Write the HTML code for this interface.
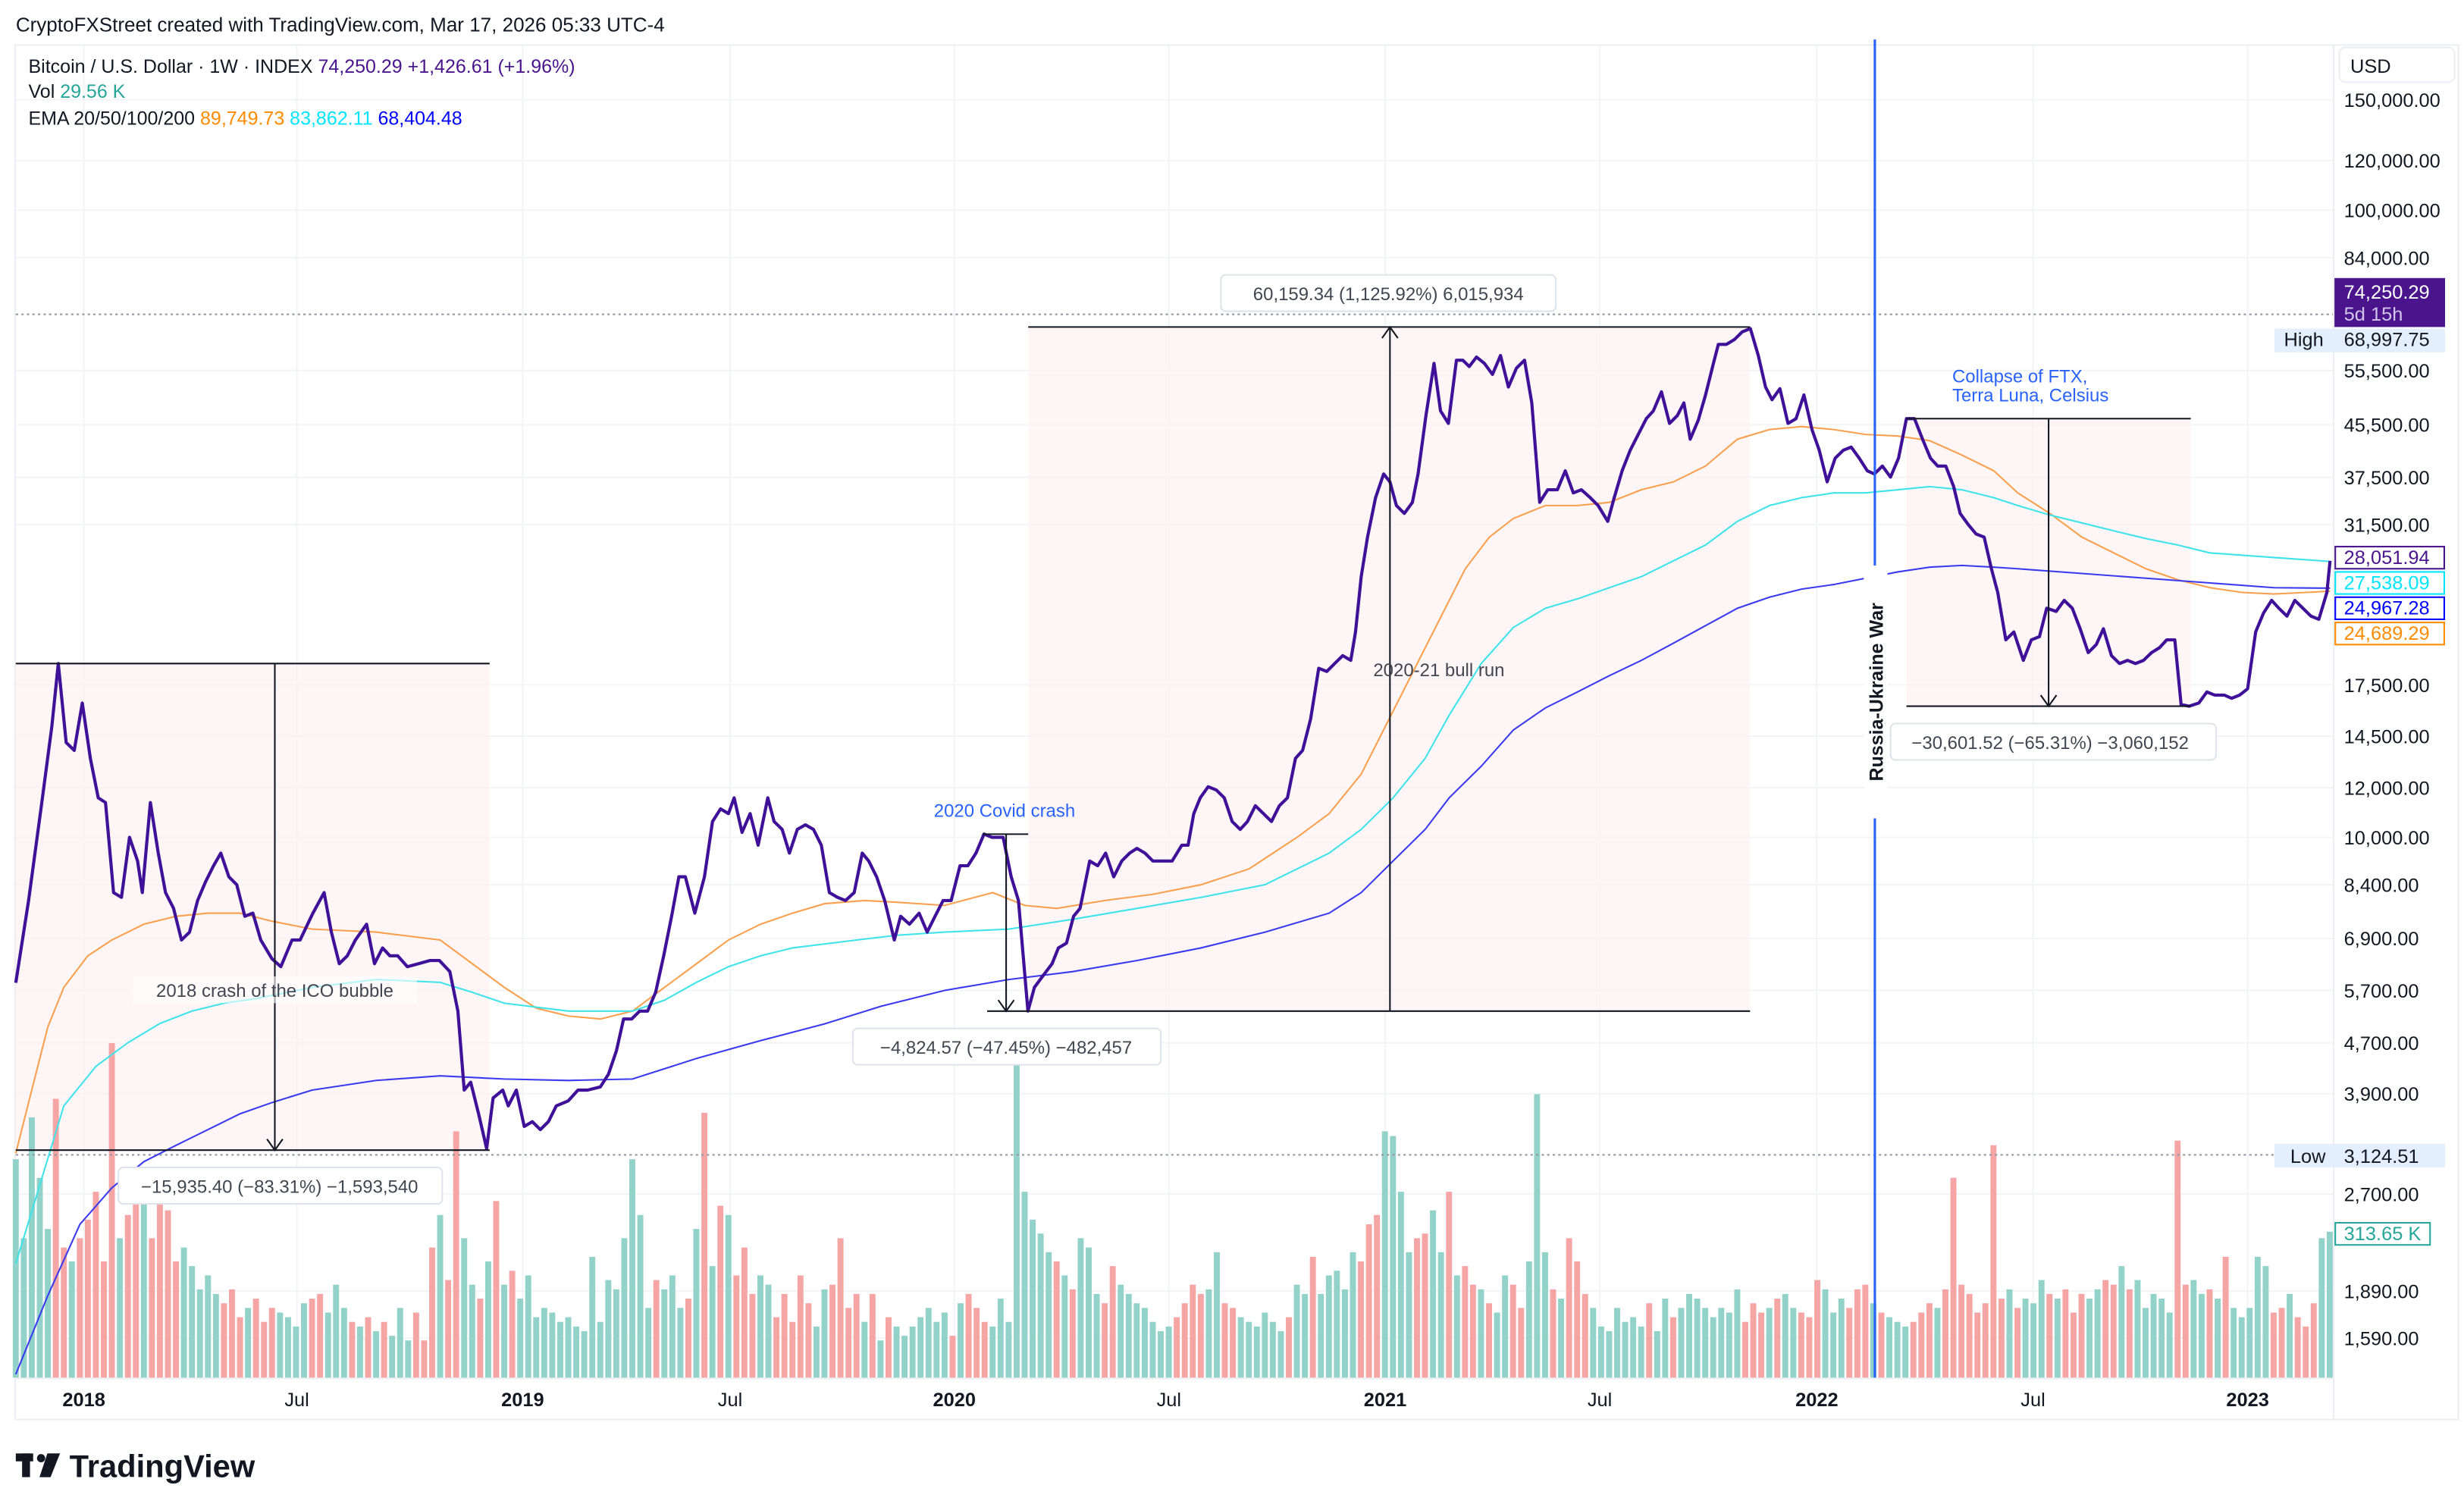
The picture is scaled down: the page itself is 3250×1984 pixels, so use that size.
<!DOCTYPE html>
<html><head><meta charset="utf-8"><style>
html,body{margin:0;padding:0;background:#fff;}
svg{display:block;font-family:"Liberation Sans",sans-serif;}
</style></head><body>
<svg id="chart" width="3250" height="1984" viewBox="0 0 1560 952" preserveAspectRatio="none" xmlns="http://www.w3.org/2000/svg">
<rect x="0" y="0" width="1560" height="952" fill="#fff"/>
<text x="10" y="20" font-size="12.5" fill="#131722">CryptoFXStreet created with TradingView.com, Mar 17, 2026 05:33 UTC-4</text>
<rect x="9.5" y="28.5" width="1547" height="870" fill="none" stroke="#eceef2"/>
<line x1="1477.5" y1="29" x2="1477.5" y2="898" stroke="#eceef2"/>
<line x1="10" y1="872.5" x2="1477" y2="872.5" stroke="#eceef2"/>
<g id="grid"></g>
<g id="boxes">
<rect x="10" y="420" width="300" height="308" fill="#fdf2f2" opacity="0.7"/>
<rect x="651" y="207" width="457" height="433" fill="#fdf2f2" opacity="0.7"/>
<rect x="1207" y="265" width="180" height="182" fill="#fdf2f2" opacity="0.7"/>
</g>
<g id="vol"></g>
<line x1="10" y1="199" x2="1477" y2="199" stroke="#9598a1" stroke-dasharray="1.5 2" stroke-width="1"/>
<line x1="10" y1="731" x2="1477" y2="731" stroke="#9598a1" stroke-dasharray="1.5 2" stroke-width="1"/>
<g id="ema"></g>
<g id="price"></g>
<g id="annot" font-size="11.5" fill="#131722">
<line x1="10" y1="420" x2="310" y2="420" stroke="#131722"/>
<line x1="10" y1="728" x2="310" y2="728" stroke="#131722"/>
<line x1="174" y1="420" x2="174" y2="727" stroke="#131722"/>
<path d="M169,721 L174,728 L179,721" fill="none" stroke="#131722"/>
<rect x="84" y="618" width="180" height="17" fill="#fff" opacity="0.6"/>
<text x="174" y="631" text-anchor="middle" fill="#434651">2018 crash of the ICO bubble</text>
<rect x="75" y="739" width="205" height="23" rx="3" fill="#fff" stroke="#e0e3eb"/>
<text x="177" y="755" text-anchor="middle" fill="#434651">−15,935.40 (−83.31%) −1,593,540</text>
<line x1="622" y1="528" x2="651" y2="528" stroke="#131722"/>
<line x1="637" y1="528" x2="637" y2="639" stroke="#131722"/>
<path d="M632,633 L637,640 L642,633" fill="none" stroke="#131722"/>
<line x1="625" y1="640" x2="1108" y2="640" stroke="#131722"/>
<line x1="651" y1="207" x2="1108" y2="207" stroke="#131722"/>
<line x1="880" y1="208" x2="880" y2="640" stroke="#131722"/>
<path d="M875,214 L880,207 L885,214" fill="none" stroke="#131722"/>
<text x="636" y="517" text-anchor="middle" fill="#2962ff">2020 Covid crash</text>
<rect x="540" y="651" width="195" height="23" rx="3" fill="#fff" stroke="#e0e3eb"/>
<text x="637" y="667" text-anchor="middle" fill="#434651">−4,824.57 (−47.45%) −482,457</text>
<rect x="773" y="174" width="212" height="23" rx="3" fill="#fff" stroke="#e0e3eb"/>
<text x="879" y="190" text-anchor="middle" fill="#434651">60,159.34 (1,125.92%) 6,015,934</text>
<text x="911" y="428" text-anchor="middle" fill="#434651">2020-21 bull run</text>
<line x1="1207" y1="265" x2="1387" y2="265" stroke="#131722"/>
<line x1="1207" y1="447" x2="1387" y2="447" stroke="#131722"/>
<line x1="1297" y1="265" x2="1297" y2="446" stroke="#131722"/>
<path d="M1292,440 L1297,447 L1302,440" fill="none" stroke="#131722"/>
<text x="1236" y="242" fill="#2962ff">Collapse of FTX,</text>
<text x="1236" y="254" fill="#2962ff">Terra Luna, Celsius</text>
<rect x="1197" y="458" width="206" height="23" rx="3" fill="#fff" stroke="#e0e3eb"/>
<text x="1298" y="474" text-anchor="middle" fill="#434651">−30,601.52 (−65.31%) −3,060,152</text>
<line x1="1187" y1="25" x2="1187" y2="872" stroke="#2962ff" stroke-width="1.5"/>
<rect x="1180" y="358" width="15" height="160" fill="#fff"/>
<text transform="translate(1192,438) rotate(-90)" text-anchor="middle" font-weight="bold" font-size="12">Russia-Ukraine War</text>
</g>
<g font-size="12">
<text x="18" y="46" fill="#131722">Bitcoin / U.S. Dollar · 1W · INDEX <tspan fill="#4a148c">74,250.29</tspan> <tspan fill="#4a148c">+1,426.61 (+1.96%)</tspan></text>
<text x="18" y="62" fill="#131722">Vol <tspan fill="#26a69a">29.56 K</tspan></text>
<text x="18" y="79" fill="#131722">EMA 20/50/100/200 <tspan fill="#ff8c00">89,749.73</tspan> <tspan fill="#00e5ff">83,862.11</tspan> <tspan fill="#0000ff">68,404.48</tspan></text>
</g>
<g id="yaxis" font-size="12.2" fill="#131722"></g>
<g id="xaxis" font-size="12.2" fill="#131722"></g>
<g font-size="12.2">
<rect x="1481" y="30" width="73" height="22" rx="4" fill="#fff" stroke="#eceef2"/>
<text x="1488" y="46" fill="#131722">USD</text>
<rect x="1478" y="176" width="70" height="31" fill="#4a148c"/>
<text x="1484" y="189" fill="#fff">74,250.29</text>
<text x="1484" y="203" fill="#d1c4e9">5d 15h</text>
<rect x="1440" y="208" width="108" height="15" fill="#e3effd"/>
<text x="1446" y="219" fill="#131722">High</text>
<text x="1484" y="219" fill="#131722">68,997.75</text>
<rect x="1440" y="724" width="108" height="15" fill="#e3effd"/>
<text x="1450" y="736" fill="#131722">Low</text>
<text x="1484" y="736" fill="#131722">3,124.51</text>
<rect x="1478.5" y="346" width="69" height="14" fill="#fff" stroke="#4a148c"/>
<text x="1484" y="357" fill="#4a148c">28,051.94</text>
<rect x="1478.5" y="362" width="69" height="14" fill="#fff" stroke="#00e5ff"/>
<text x="1484" y="373" fill="#00e5ff">27,538.09</text>
<rect x="1478.5" y="378" width="69" height="14" fill="#fff" stroke="#0000ff"/>
<text x="1484" y="389" fill="#0000ff">24,967.28</text>
<rect x="1478.5" y="394" width="69" height="14" fill="#fff" stroke="#ff8c00"/>
<text x="1484" y="405" fill="#ff8c00">24,689.29</text>
<rect x="1478.5" y="774" width="60" height="14" fill="#fff" stroke="#26a69a"/>
<text x="1484" y="785" fill="#26a69a">313.65 K</text>
</g>
<g>
<rect x="10" y="920" width="11" height="5" fill="#131722"/>
<rect x="14" y="920" width="5" height="15" fill="#131722"/>
<circle cx="26" cy="923" r="2.6" fill="#131722"/>
<path d="M30,920 L38,920 L32,935 L25,935 Z" fill="#131722"/>
<text x="44" y="935" font-size="20" font-weight="bold" fill="#131722">TradingView</text>
</g>
</svg>
<script>
const priceWeeks=[0,1.6,3.2,4.5,5.3,6.3,7.3,8.3,9.3,10.3,11.2,12.2,13.2,14.2,15.2,15.8,16.8,17.8,18.7,19.7,20.7,21.7,22.7,23.7,24.7,25.6,26.6,27.6,28.6,29.6,30.6,32,33.1,34.5,35.5,37.1,38.5,39.4,40.4,41.4,42.4,43.8,44.8,45.8,46.7,47.7,48.9,50.3,51.7,52.9,54.2,55.2,56,56.8,57.8,58.8,59.6,60.8,61.5,62.5,63.5,64.5,65.5,66.5,67.5,69,70.2,71.4,73,74,75,75.9,76.9,77.9,78.9,79.9,80.9,81.9,82.8,83.6,84.8,86,87,88,89,89.7,90.7,91.7,92.7,93.9,94.7,95.7,96.6,97.6,98.6,99.6,100.6,101.6,102.6,103.6,104.7,105.7,106.5,107.5,108.5,109.7,110.5,111.6,112.8,113.8,114.8,115.8,116.8,117.9,118.9,119.9,120.9,121.9,123.3,124.3,125.2,126.4,127.2,128.2,129.4,130.2,131.2,132.1,132.9,134.1,135.1,136.1,137.1,138.1,139.1,140,141,142,143,144.4,145.6,146.4,147.1,147.9,148.9,149.9,150.9,151.9,152.9,153.8,154.8,155.8,156.8,157.8,158.8,159.8,160.7,161.7,162.7,163.7,164.7,165.7,166.7,167.3,168,168.8,169.8,170.8,171.6,172.4,173.4,174.4,175.1,176.1,177.1,177.9,178.9,179.9,180.7,181.5,182.4,183.4,184.4,185.4,186.4,187.4,188.4,189.3,190.3,191.3,192.5,193.5,194.5,195.5,196.6,197.6,198.8,199.6,200.6,201.6,202.6,203.6,204.5,205.5,206.5,207.5,208.3,209.1,210.1,211,212,212.6,213.6,214.6,215.6,216.6,217.6,218.5,219.3,220.3,221.3,222.3,223.3,224.3,225.2,226.2,227.2,228.2,229.2,230.2,231.2,232.1,233.1,234.1,235.1,236.1,237.1,238.1,239.1,240,241,242,242.8,243.8,244.8,245.8,246.7,247.5,248.5,249.5,250.7,251.7,252.7,253.6,254.8,255.8,256.8,257.8,258.8,259.8,260.7,261.7,262.7,263.7,264.7,265.7,266.7,267.7,268.6,269.6,270.4,271.4,272.6,273.6,274.6,275.8,276.7,277.7,278.7,279.7,280.7,281.7,282.6,283.6,284.6,285.6,286.6,287.6,288.6,289];
const priceValues=[5860,7930,11230,15009,18929,14163,13758,16373,13365,11561,11360,8163,8020,10000,9167,8163,11360,9437,8163,7703,6860,7061,7930,8500,9010,9437,8650,8403,7483,7570,6860,6400,6220,6860,6860,7570,8163,7061,6288,6473,6860,7269,6288,6664,6473,6473,6220,6288,6360,6360,6108,5284,3954,4070,3624,3190,3841,3954,3731,3954,3460,3521,3420,3521,3731,3800,3954,3954,4000,4190,4571,5133,5133,5284,5284,5660,6473,7483,8650,8650,7570,8650,10597,11100,10909,11561,10180,10909,9714,11561,10597,10294,9437,10294,10470,10294,9714,8163,8020,7930,8163,9437,9167,8650,7930,6860,7483,7269,7570,7061,7483,7930,7930,9010,9010,9437,10120,10000,10000,8650,7930,5284,5764,6000,6288,6664,6780,7483,7703,9167,9010,9437,8650,9167,9437,9600,9437,9167,9167,9167,9714,9714,10909,11561,12040,11901,11561,10597,10294,10597,11230,10909,10597,11230,11561,13365,13758,15451,18600,18388,18929,19486,19150,21257,26043,30107,34806,37970,36885,33811,32844,34200,37970,47050,56990,47887,45700,57660,57660,56330,58330,56990,54720,58667,52240,56000,57660,49296,34200,35830,35830,38410,35420,35830,34806,33811,31905,34806,38410,41422,43896,46518,47887,51330,45700,47050,49296,43130,46250,50747,56990,61100,61100,62171,64000,64750,58667,52240,49870,51930,45700,46518,50747,44690,41422,36885,40238,41422,41900,40238,38410,37970,39088,37530,40238,46518,46518,43130,40238,39088,39088,36240,32844,31530,30460,30107,26809,24575,20650,21257,19150,20650,20890,23190,22920,23872,23190,21500,19700,20290,21500,19486,18929,19150,18929,19150,19700,20059,20650,20650,16280,16180,16373,17050,16855,16855,16660,16855,17250,21257,22790,23872,23190,22527,23872,23190,22527,22270,24575,27598];
const volumeK=[470,300,560,430,320,600,280,250,300,340,400,250,720,300,350,450,380,300,440,360,250,280,240,190,220,180,160,190,130,150,170,120,150,140,130,110,160,170,180,140,200,150,120,110,130,100,120,90,150,80,140,80,280,350,210,530,300,200,170,250,380,200,230,170,220,130,150,140,120,130,110,100,260,120,210,190,300,470,350,150,210,190,220,150,170,320,570,240,370,350,220,280,180,220,200,130,180,120,220,160,110,190,200,300,150,180,120,180,80,130,110,90,110,130,150,120,140,90,160,180,150,120,110,170,120,680,400,340,310,270,250,220,190,300,280,180,160,240,200,180,160,150,120,100,110,130,160,200,180,190,270,160,150,130,120,110,140,120,100,130,200,180,260,180,220,230,190,270,250,330,350,530,520,400,270,300,310,360,270,400,220,240,200,190,160,140,220,200,150,250,610,270,190,170,300,250,180,150,110,100,150,120,130,110,160,100,170,130,150,180,170,150,130,150,140,190,120,160,140,150,170,180,150,140,130,210,190,140,170,150,190,200,160,140,130,120,110,120,140,160,150,190,430,200,180,140,160,500,170,190,150,170,160,210,180,170,190,140,180,170,190,210,200,240,190,210,150,180,170,140,510,200,210,180,190,170,260,150,130,150,260,240,140,150,180,130,110,160,300,314];
const ema20Weeks=[0,2,4,6,9,12,16,20,24,28,32,37,45,53,57,61,65,69,73,77,81,85,89,93,97,101,106,110,116,122,126,130,136,142,148,154,160,164,168,171,174,178,181,184,187,191,195,199,203,207,211,215,219,223,227,231,235,239,243,247,250,254,258,262,266,270,274,278,282,286,289];
const ema20Values=[3135,3954,4986,5764,6473,6860,7269,7483,7570,7570,7350,7140,7061,6860,6288,5764,5340,5190,5133,5284,5764,6288,6860,7269,7570,7840,7930,7880,7790,8163,7790,7703,7930,8110,8403,8905,10000,10909,12612,15009,17862,22527,26809,30107,32240,33811,33811,34200,35830,36885,39088,43130,44690,45188,44690,43896,43640,42900,40700,38410,35420,32844,30107,28410,26809,25740,25010,24575,24430,24575,24689];
const ema50Weeks=[0,3,6,10,14,18,22,26,30,37,45,53,57,61,69,77,81,85,89,93,97,105,110,116,124,132,140,148,156,164,168,172,176,179,183,187,191,195,199,203,207,211,215,219,223,227,231,235,239,243,247,250,254,258,262,266,270,274,282,289];
const ema50Values=[2090,2790,3731,4313,4705,5050,5284,5439,5530,5764,5934,5870,5660,5439,5284,5284,5500,5870,6220,6473,6664,6860,6980,7061,7140,7400,7703,8020,8403,9437,10294,11561,13365,15660,18929,21600,23190,23990,25010,26043,27598,29246,31905,33811,34806,35420,35420,35830,36240,35830,34806,33811,32660,31720,30810,29950,29250,28410,27930,27538];
const ema100Weeks=[0,4,8,12,16,20,24,28,32,37,45,53,61,69,77,85,93,101,108,116,124,132,140,148,156,164,168,172,176,179,183,187,191,195,199,203,207,211,215,219,223,227,231,235,239,243,247,250,258,266,274,282,289];
const ema100Values=[1392,1860,2415,2760,3040,3227,3420,3624,3775,3954,4095,4165,4118,4095,4118,4440,4740,5040,5375,5700,5934,6108,6360,6664,7061,7570,8163,9167,10294,11561,12983,14830,16080,17050,18100,19150,20400,21750,23190,24150,24870,25298,25890,26500,26970,27130,26970,26809,26350,25890,25450,25010,24967];
const priceTicks=[150000,120000,100000,84000,55500,45500,37500,31500,17500,14500,12000,10000,8400,6900,5700,4700,3900,2700,1890,1590];
const timeTickWeeks=[8.5,35.1,63.3,89.2,117.2,144,171,197.8,224.9,251.9,278.7];
const timeTickLabels=["2018","Jul","2019","Jul","2020","Jul","2021","Jul","2022","Jul","2023"];

const NS="http://www.w3.org/2000/svg";
const X0=10,X1=1475,PXW=5.07;
function yScale(p){return 530-172.4*Math.log(p/10000);}
function xWeek(w){return X0+w*PXW;}
function xIdx(i,n){return X0+i*(X1-X0)/(n-1);}
function mk(tag,attrs,parent){const e=document.createElementNS(NS,tag);for(const k in attrs)e.setAttribute(k,attrs[k]);parent.appendChild(e);return e;}

const grid=document.getElementById('grid');
const yaxis=document.getElementById('yaxis');
priceTicks.forEach(p=>{
  const y=yScale(p);
  const l=mk('line',{x1:10,x2:1477,y1:y,y2:y,stroke:'#f3f4f6'},grid);
  
  
  const t=mk('text',{x:1484,y:y+4.5},yaxis);
  
  
  t.textContent=p.toLocaleString('en-US',{minimumFractionDigits:2,maximumFractionDigits:2});
});
const xaxis=document.getElementById('xaxis');
timeTickWeeks.forEach((w,i)=>{
  const x=xWeek(w);
  const l=mk('line',{x1:x,x2:x,y1:29,y2:872,stroke:'#f3f4f6'},grid);
  
  
  const t=mk('text',{x:x,y:890,'text-anchor':'middle'},xaxis);
  
  
  if(/^\d+$/.test(timeTickLabels[i]))t.setAttribute('font-weight','bold');
  t.textContent=timeTickLabels[i];
});

const vol=document.getElementById('vol');
const nv=volumeK.length;
const np=Math.min(priceWeeks.length,priceValues.length);
volumeK.forEach((v,i)=>{
  const x=xIdx(i,nv);
  const h=v/3.4;
  const k=Math.min(i,np-1);
  const up=k===0?true:priceValues[k]>=priceValues[k-1];
  const r=mk('rect',{x:x-1.9,y:872-h,width:3.8,height:h,fill:up?'#92d2c9':'#f6a5a5'},vol);
  
  
});

const ema=document.getElementById('ema');
function emaLine(weeks,vals,color,name){
  const n=Math.min(weeks.length,vals.length);
  let d='';
  for(let i=0;i<n;i++)d+=(i?'L':'M')+xWeek(weeks[i]).toFixed(1)+','+yScale(vals[i]).toFixed(1);
  const p=mk('path',{d:d,fill:'none',stroke:color,'stroke-width':1},ema);
  
  
}
emaLine(ema20Weeks,ema20Values,'#f9a04e','ema-20-line');
emaLine(ema50Weeks,ema50Values,'#3fe3ea','ema-50-line');
emaLine(ema100Weeks,ema100Values,'#3a3af0','ema-100-line');

const pg=document.getElementById('price');
let d='';
for(let i=0;i<np;i++)d+=(i?'L':'M')+xWeek(priceWeeks[i]).toFixed(1)+','+yScale(priceValues[i]).toFixed(1);
const pl=mk('path',{d:d,fill:'none',stroke:'#3f1199','stroke-width':2,'stroke-linejoin':'round'},pg);


</script>
</body></html>
